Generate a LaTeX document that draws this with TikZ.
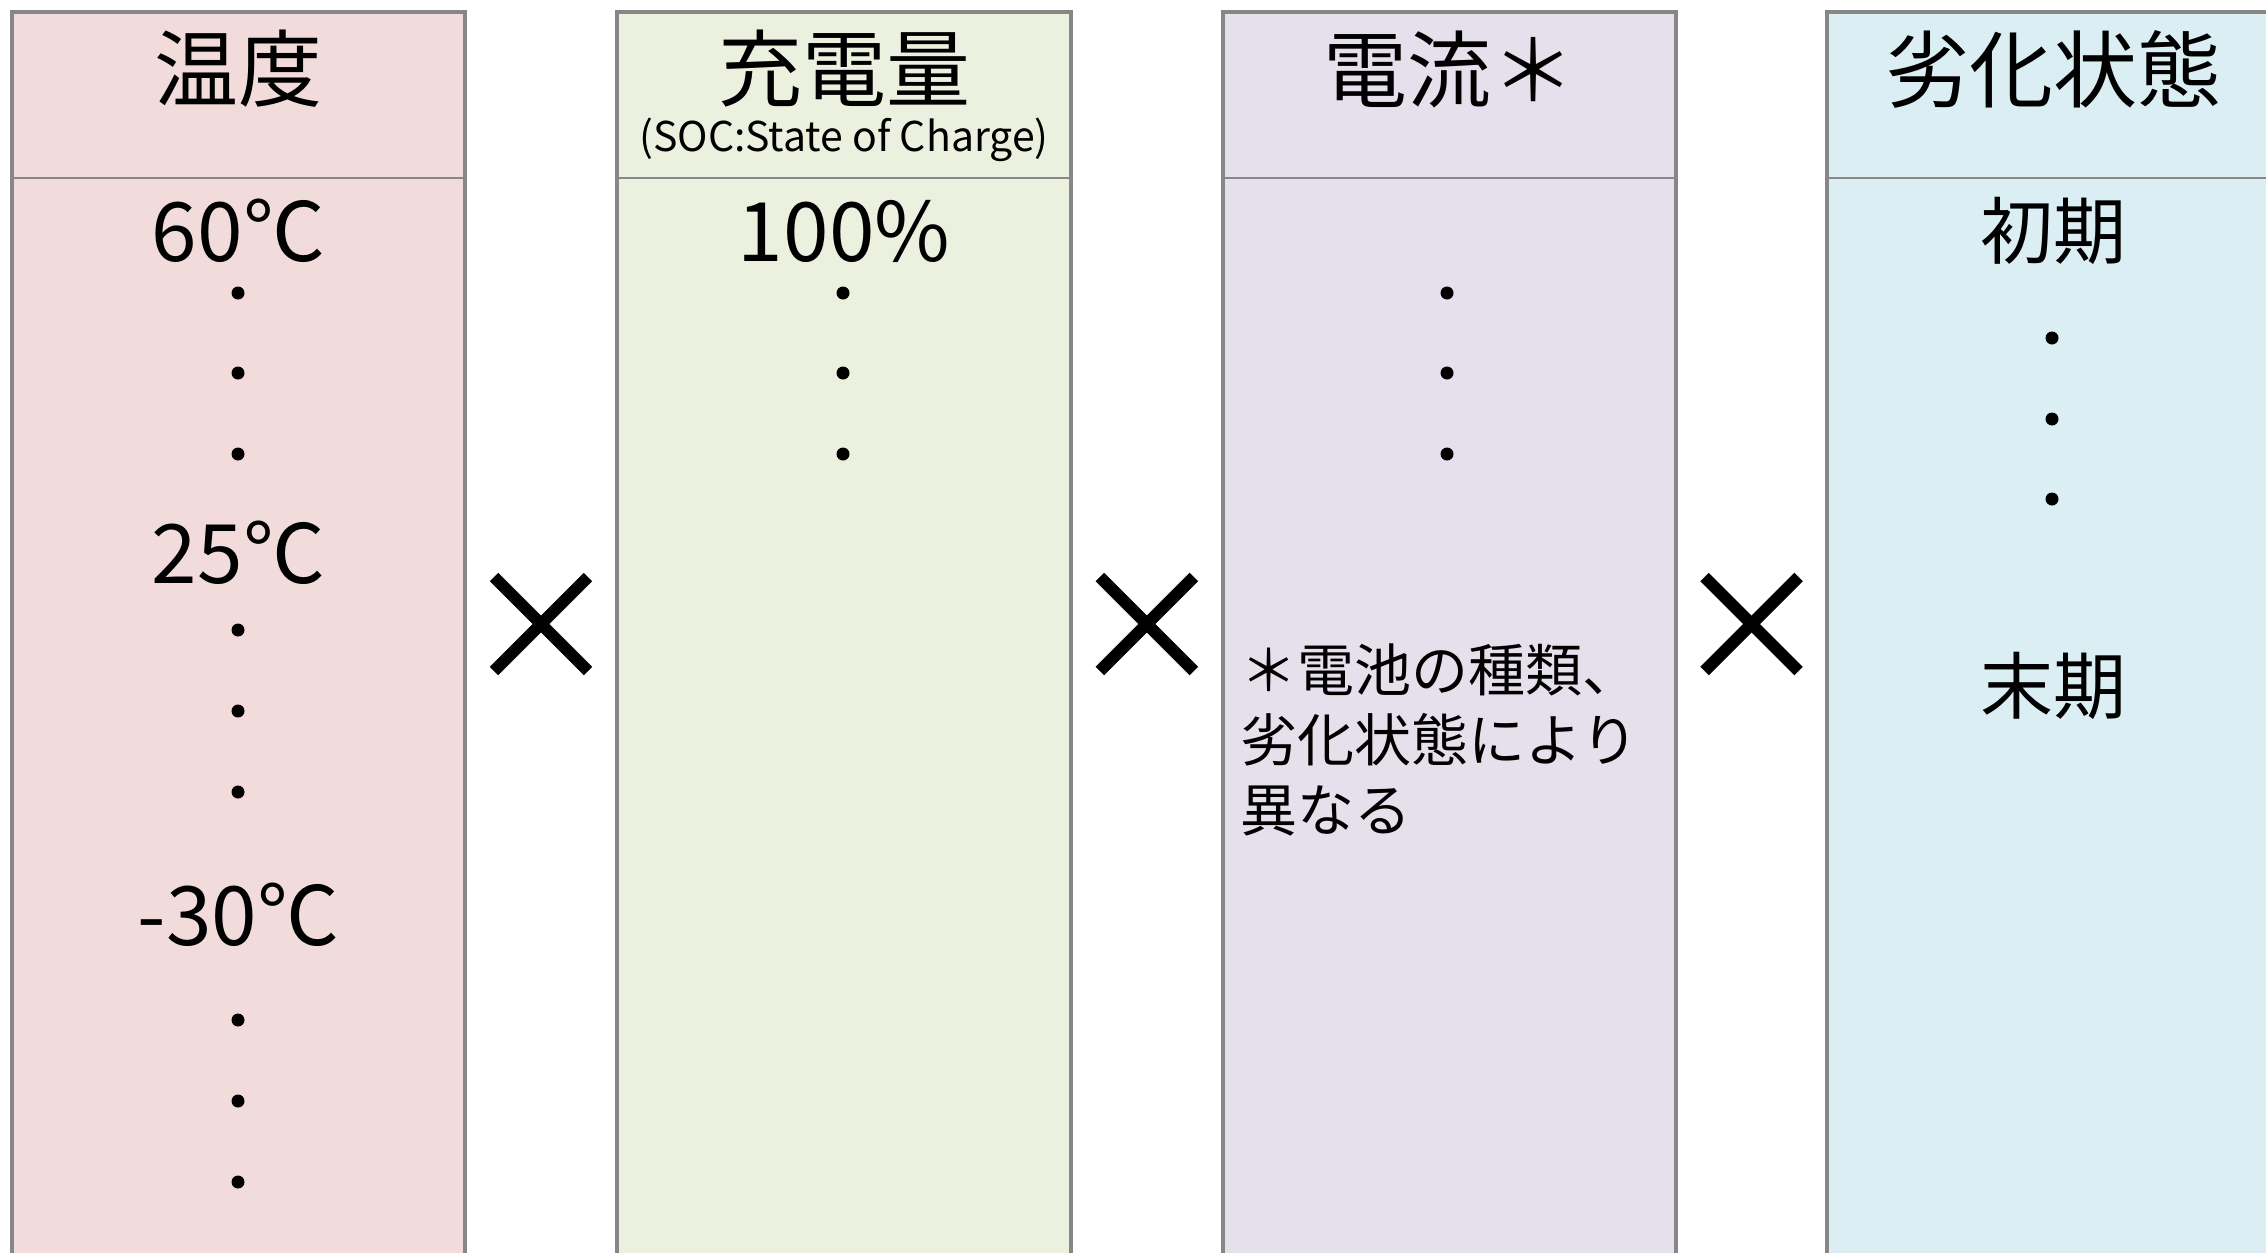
\documentclass[tikz,border=0pt]{standalone}
\usepackage{fontspec}
\setmainfont{Noto Sans CJK JP}
\definecolor{c1}{HTML}{F2DCDB}
\definecolor{c2}{HTML}{EBF1DE}
\definecolor{c3}{HTML}{E5E0EC}
\definecolor{c4}{HTML}{DBEEF4}
\definecolor{bordergray}{HTML}{878787}
\begin{document}
\begin{tikzpicture}[x=0.5pt,y=-0.5pt,
  colbox/.style={draw=bordergray, line width=2pt},
  divline/.style={draw=bordergray, line width=1.1pt},
  hdr/.style={font=\fontsize{42}{50}\selectfont, inner sep=0pt},
  subhdr/.style={font=\fontsize{20.5}{24}\selectfont, inner sep=0pt},
  val/.style={font=\fontsize{41}{50}\selectfont, inner sep=0pt},
  jval/.style={font=\fontsize{36.5}{44}\selectfont, inner sep=0pt},
  note/.style={font=\fontsize{28.5}{35}\selectfont, inner sep=0pt, align=left, anchor=west},
  dotmark/.style={fill=black},
  timesmark/.style={line width=6pt, line cap=butt}
]
\useasboundingbox (0,0) rectangle (2266,1253);
\clip (0,0) rectangle (2266,1253);
\fill[white] (0,0) rectangle (2266,1253);

% columns
\foreach \l/\c in {11.6/c1, 617/c2, 1222.6/c3, 1826.7/c4} {
  \filldraw[colbox, fill=\c] (\l,11.6) rectangle ++(453.8,1300);
  \draw[divline] (\l,177.8) -- ++(453.8,0);
}

% headers
\node[hdr] (h1) at (238.5,69) {温度};
\node[hdr] (h2) at (844,69) {充電量};
\node[subhdr] (soc) at (844,140) {(SOC:State of Charge)};
\node[hdr] (h3) at (1449.5,69) {電流＊};
\node[hdr] (h4) at (2053.7,69) {劣化状態};

% column 1
\node[val] (t60) at (238.5,231) {60℃};
\node[val] (t25) at (238.5,553) {25℃};
\node[val] (tm30) at (238.5,915) {-30℃};
\foreach \y in {293,373,454,630,711,792,1020,1101,1182}
  \fill[dotmark] (238,\y) circle [radius=3.25pt];

% column 2
\node[val] (s100) at (844,231) {100\%};
\foreach \y in {293,373,454}
  \fill[dotmark] (843,\y) circle [radius=3.25pt];

% column 3
\foreach \y in {293,373,454}
  \fill[dotmark] (1447,\y) circle [radius=3.25pt];
\node[note] (cnote) at (1240,740) {＊電池の種類、\\劣化状態により\\異なる};

% column 4
\node[jval] (early) at (2053.7,231) {初期};
\node[jval] (late) at (2053.7,686) {末期};
\foreach \y in {338,419,499}
  \fill[dotmark] (2052,\y) circle [radius=3.25pt];

% multiplication signs
\foreach \cx in {541,1146.8,1751.5} {
  \draw[timesmark] (\cx-47,624-47) -- (\cx+47,624+47);
  \draw[timesmark] (\cx-47,624+47) -- (\cx+47,624-47);
}
\end{tikzpicture}
\end{document}
